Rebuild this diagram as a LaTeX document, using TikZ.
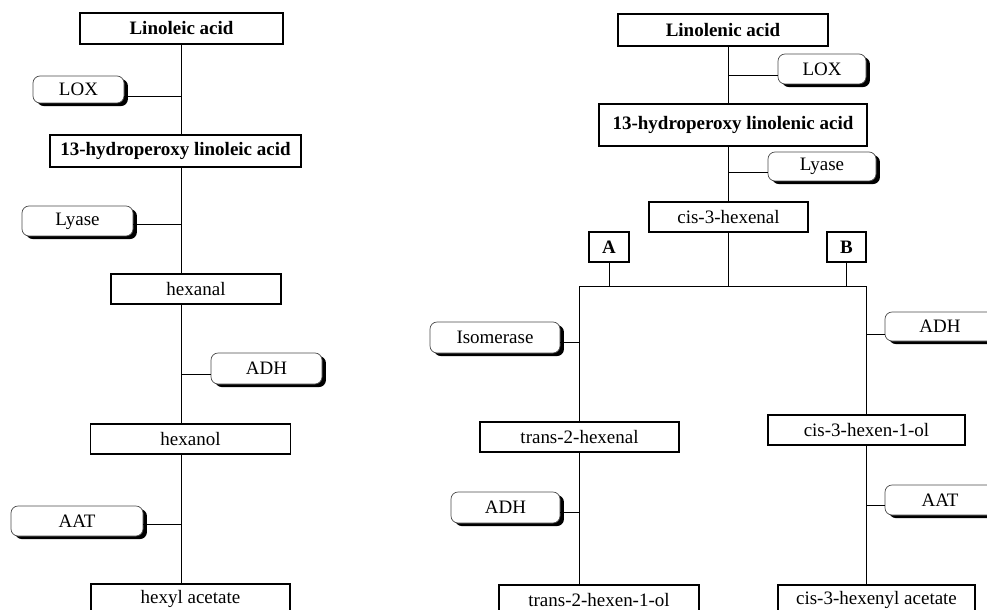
\documentclass[tikz,border=0pt]{standalone}
\usepackage{fontspec}
\setmainfont{Liberation Serif}
\usetikzlibrary{shadows}

\newcommand\pxu{0.025cm}

\begin{document}
\begin{tikzpicture}[x=\pxu, y=-\pxu, line width=0.7pt,
  every node/.style={font=\fontsize{13.5}{16}\selectfont, inner sep=0pt},
  compound/.style={draw, fill=white, line width=0.8pt},
  keycompound/.style={draw, fill=white, line width=1.7pt, font=\fontsize{13.5}{16}\selectfont\bfseries},
  letterbox/.style={draw, fill=white, line width=0.8pt, font=\fontsize{13.5}{16}\selectfont\bfseries},
  enzyme/.style={draw=black!70, line width=0.5pt, fill=white, rounded corners=5pt,
    drop shadow={shadow xshift=2.8pt, shadow yshift=-2.2pt, fill=black, opacity=1}},
  box/.style 2 args={minimum width=#1*\pxu, minimum height=#2*\pxu}]

\useasboundingbox (0,0) rectangle (987,610);
\clip (0,0) rectangle (987,610);

\node[keycompound, box={203}{31}] (lin) at (181.5,28.5) {Linoleic acid};
\node[keycompound, box={251}{32}] (hpl) at (175.5,151) {13-hydroperoxy linoleic acid};
\node[compound, box={170}{30}] (hexanal) at (196,289) {hexanal};
\node[compound, box={200}{30}] (hexanol) at (190.5,439) {hexanol};
\node[compound, box={199}{30}] (hexylac) at (190.5,599) {hexyl acetate};

\node[enzyme, box={91}{27}] (lox1) at (78.5,89.5) {LOX};
\node[enzyme, box={111}{30}] (lyase1) at (77.5,221) {Lyase};
\node[enzyme, box={111}{31}] (adh1) at (266.5,368.5) {ADH};
\node[enzyme, box={132}{30}] (aat1) at (77,521) {AAT};

\node[keycompound, box={210}{32}] (lnl) at (723,30) {Linolenic acid};
\node[keycompound, box={268}{42}] (hpln) at (733,125) {13-hydroperoxy linolenic acid};
\node[compound, box={159}{30}] (c3h) at (728.5,217) {cis-3-hexenal};
\node[letterbox, box={40}{30}] (A) at (609,247) {A};
\node[letterbox, box={39}{30}] (B) at (846.5,247) {B};
\node[compound, box={199}{30}] (t2h) at (579.5,437) {trans-2-hexenal};
\node[compound, box={200}{30}] (t2hol) at (599,600) {trans-2-hexen-1-ol};
\node[compound, box={197}{30}] (c3hol) at (866.5,430) {cis-3-hexen-1-ol};
\node[compound, box={197}{30}] (c3hac) at (876.5,600) {cis-3-hexenyl acetate};

\node[enzyme, box={88}{30}] (lox2) at (822,69) {LOX};
\node[enzyme, box={108}{29}] (lyase2) at (822,166.5) {Lyase};
\node[enzyme, box={130}{31}] (isom) at (495,337.5) {Isomerase};
\node[enzyme, box={109}{31}] (adh2) at (505.5,507.5) {ADH};
\node[enzyme, box={110}{29}] (adh3) at (940,326.5) {ADH};
\node[enzyme, box={110}{30}] (aat3) at (940,500) {AAT};

\coordinate (axL) at (181,0);
\coordinate (axR) at (728.5,0);
\coordinate (barL) at (579,286);
\coordinate (barR) at (866,286);

\draw (axL |- lin.south) -- (axL |- hpl.north);
\draw (axL |- hpl.south) -- (axL |- hexanal.north);
\draw (axL |- hexanal.south) -- (axL |- hexanol.north);
\draw (axL |- hexanol.south) -- (axL |- hexylac.north);
\draw (axL |- 0,96) -- (lox1.east |- 0,96);
\draw (axL |- 0,224) -- (lyase1.east |- 0,224);
\draw (axL |- 0,374) -- (adh1.west |- 0,374);
\draw (axL |- 0,524) -- (aat1.east |- 0,524);

\draw (axR |- lnl.south) -- (axR |- hpln.north);
\draw (axR |- hpln.south) -- (c3h.north);
\draw (c3h.south) -- (c3h.south |- barL);
\draw (A.south) -- (A.south |- barL);
\draw (B.south) -- (B.south |- barR);
\draw (barL) -- (barR);
\draw (barL) -- (barL |- t2h.north);
\draw (barL |- t2h.south) -- (barL |- t2hol.north);
\draw (barR) -- (barR |- c3hol.north);
\draw (barR |- c3hol.south) -- (barR |- c3hac.north);
\draw (axR |- 0,75) -- (lox2.west |- 0,75);
\draw (axR |- 0,172) -- (lyase2.west |- 0,172);
\draw (barL |- 0,342) -- (isom.east |- 0,342);
\draw (barL |- 0,512) -- (adh2.east |- 0,512);
\draw (barR |- 0,334) -- (adh3.west |- 0,334);
\draw (barR |- 0,505) -- (aat3.west |- 0,505);

\end{tikzpicture}
\end{document}
